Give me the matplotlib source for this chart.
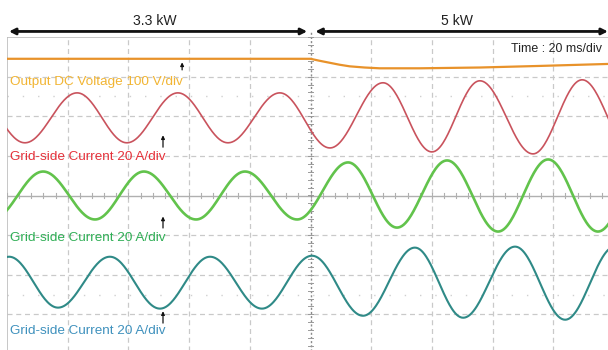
import numpy as np
import matplotlib
matplotlib.use("Agg")
import matplotlib.pyplot as plt

plt.rcParams["font.family"] = ["Liberation Sans", "DejaVu Sans"]

# ---- screen settings: 20 ms/div, 10 x 8 divisions ----
T_PER_DIV = 20.0
N_HDIV = 10
N_VDIV = 8
A_PER_DIV = 20.0    # grid-side currents
V_PER_DIV = 100.0   # output DC voltage

# ---- output DC voltage (time in ms, volts) ----
vdc_t = [0.0, 100.0, 103.0, 106.3, 109.6, 112.9, 117.8, 122.8, 136.0, 155.8, 175.6, 198.0, 202.0]
vdc_v = [400, 400, 395, 390, 385, 381, 378, 376, 376, 378, 382, 387, 388]
VDC_OFFSET = -0.55   # trace position (div)

# ---- grid-side currents: successive extrema (time in ms, amps) ----
ia_t = [-10.9, 5.9, 23.1, 39.5, 56.3, 72.8, 89.9, 106.4, 123.9, 140.0, 155.8, 173.3, 189.5, 206.3]
ia_v = [12.6, -12.6, 12.6, -12.6, 12.6, -12.6, 12.6, -15.2, 17.7, -17.2, 18.7, -18.2, 19.2, -18.2]
IA_OFFSET = 1.96

ib_t = [-4.9, 11.9, 29.0, 45.1, 62.3, 78.4, 95.6, 112.4, 128.5, 145.0, 161.8, 178.3, 194.7, 211.2]
ib_v = [-12.1, 12.1, -12.1, 12.1, -12.1, 12.1, -12.1, 16.7, -16.2, 17.7, -18.2, 18.2, -18.2, 18.2]
IB_OFFSET = 0.0

ic_t = [-16.1, 0.7, 16.8, 33.9, 50.4, 66.9, 84.0, 100.5, 117.3, 134.4, 150.3, 167.4, 183.9, 200.3]
ic_v = [-12.6, 13.1, -12.6, 13.1, -13.1, 13.1, -13.1, 13.6, -16.7, 17.7, -17.7, 18.2, -18.7, 18.2]
IC_OFFSET = -2.2

STEP_T = 100.0
power_labels = ["3.3 kW", "5 kW"]
trace_labels = ["Output DC Voltage 100 V/div",
                "Grid-side Current 20 A/div",
                "Grid-side Current 20 A/div",
                "Grid-side Current 20 A/div"]


def sine_trace(t_ext, v_ext, n=60):
    """Join successive extrema with half-cosine arcs (sinusoidal trace)."""
    ts, vs = [], []
    for (t0, v0), (t1, v1) in zip(zip(t_ext[:-1], v_ext[:-1]), zip(t_ext[1:], v_ext[1:])):
        s = np.linspace(0, 1, n, endpoint=False)
        ts.append(t0 + (t1 - t0) * s)
        vs.append(v0 + (v1 - v0) * (1 - np.cos(np.pi * s)) / 2)
    ts.append([t_ext[-1]])
    vs.append([v_ext[-1]])
    return np.concatenate(ts), np.concatenate(vs)


W, H = 608, 350
fig = plt.figure(figsize=(W / 100, H / 100), dpi=100)
fig.patch.set_facecolor("white")
# screen: left 7 px, top 37 px, one div = 60.7 px x 39.6 px
ax = fig.add_axes([7 / W, (H - 354) / H, 607 / W, 317 / H])
ax.set_xlim(0, N_HDIV * T_PER_DIV)
ax.set_ylim(-N_VDIV / 2, N_VDIV / 2)
ax.axis("off")

grid_c = "#c9c9c9"
for k in range(1, N_HDIV):
    if k == N_HDIV // 2:
        continue
    ax.axvline(k * T_PER_DIV, color=grid_c, lw=0.9, ls=(0, (4, 3)), zorder=1)
for k in range(-3, 4):
    if k == 0:
        continue
    ax.axhline(k, color=grid_c, lw=0.9, ls=(0, (4, 3)), zorder=1)
for yv in (2.5, -2.5):
    ax.axhline(yv, color="#d0d0d0", lw=1.0, ls=(0, (1, 10)), zorder=1)

# borders
ax.axvline(0, color="#bdbdbd", lw=1.2, zorder=1)
ax.axhline(4, color="#bdbdbd", lw=1.2, zorder=1)

# centre axes with minor ticks
ax.axhline(0, color="#b0b0b0", lw=1.0, zorder=1)
for t in np.arange(0, 200.1, T_PER_DIV / 5):
    ax.plot([t, t], [-0.06, 0.06], color="#b0b0b0", lw=0.8, zorder=1)
ax.plot([STEP_T, STEP_T], [-4, 4.16], color="#8a8a8a", lw=1.0,
        ls=(0, (1.5, 1.5)), clip_on=False, zorder=2)
for yv in np.arange(-4, 4.01, 0.2):
    ax.plot([STEP_T - 0.7, STEP_T + 0.7], [yv, yv], color="#9a9a9a", lw=0.7, zorder=2)

# traces
vt = np.array(vdc_t)
vv = np.array(vdc_v) / V_PER_DIV + VDC_OFFSET
ax.plot(vt, vv, color="#e8922a", lw=1.6, zorder=3)

for (tt, vals, off, col, lw) in [
    (ia_t, ia_v, IA_OFFSET, "#c9535d", 1.2),
    (ib_t, ib_v, IB_OFFSET, "#62c34c", 1.9),
    (ic_t, ic_v, IC_OFFSET, "#2f8a87", 1.5),
]:
    t, v = sine_trace(tt, vals)
    ax.plot(t, v / A_PER_DIV + off, color=col, lw=lw, zorder=3)

# trace labels
lab_fs = 9.7
ax.text(1.0, 2.79, trace_labels[0], color="#f2b533", fontsize=lab_fs, va="baseline", zorder=4)
ax.text(1.0, 0.90, trace_labels[1], color="#e5313a", fontsize=lab_fs, va="baseline", zorder=4)
ax.text(1.0, -1.15, trace_labels[2], color="#2fae55", fontsize=lab_fs, va="baseline", zorder=4)
ax.text(1.0, -3.50, trace_labels[3], color="#3f91bd", fontsize=lab_fs, va="baseline", zorder=4)

# small pointer arrows
for x, y0, y1 in [(57.7, 3.17, 3.36), (51.4, 1.22, 1.52), (51.4, -0.82, -0.53), (51.4, -3.22, -2.92)]:
    ax.annotate("", xy=(x, y1), xytext=(x, y0),
                arrowprops=dict(arrowstyle="-|>", color="#111111", lw=0.9,
                                mutation_scale=5, shrinkA=0, shrinkB=0), zorder=5)

ax.text(196.0, 3.62, "Time : 20 ms/div", color="#222222", fontsize=8.9,
        ha="right", va="baseline", zorder=4)

# load-step arrows on top
for x0, x1, lab, xc in [(0.66, 98.9, power_labels[0], 48.8), (101.6, 198.0, power_labels[1], 148.3)]:
    ax.annotate("", xy=(x1, 4.14), xytext=(x0, 4.14), annotation_clip=False,
                arrowprops=dict(arrowstyle="<|-|>", color="#111111", lw=2.0,
                                mutation_scale=9, shrinkA=0, shrinkB=0))
    ax.text(xc, 4.31, lab, color="#222222", fontsize=10.1, ha="center",
            va="baseline", clip_on=False)

fig.savefig("out.png", dpi=100, facecolor="white")
